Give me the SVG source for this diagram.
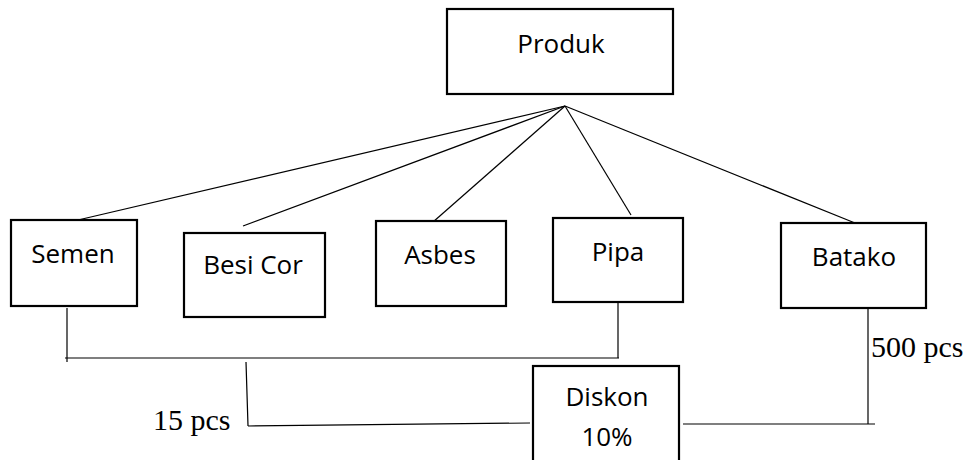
<svg xmlns="http://www.w3.org/2000/svg" width="975" height="460" viewBox="0 0 975 460">
<style>
.box{fill:#fff;stroke:#000;stroke-width:2.2}
.lbl{font-family:"Open Sans","Noto Sans",sans-serif;font-size:26px;fill:#000;text-anchor:middle}
.num{font-family:"Liberation Serif","Times New Roman",serif;font-size:30px;fill:#000}
.ln{stroke:#000;stroke-width:1.2;fill:none}
</style>
<rect width="975" height="460" fill="#fff"/>
<g id="connectors">
<line class="ln" x1="565" y1="106" x2="78" y2="220"/>
<line class="ln" x1="565" y1="106" x2="243" y2="226"/>
<line class="ln" x1="565" y1="106" x2="433" y2="222"/>
<line class="ln" x1="565" y1="106" x2="631" y2="215"/>
<line class="ln" x1="565" y1="106" x2="855" y2="223"/>
<line class="ln" x1="67" y1="308" x2="67" y2="362"/>
<line class="ln" x1="65" y1="358" x2="619" y2="358"/>
<line class="ln" x1="618" y1="302" x2="618" y2="358"/>
<line class="ln" x1="246" y1="362" x2="248" y2="426"/>
<line class="ln" x1="248" y1="426" x2="530" y2="423"/>
<line class="ln" x1="683" y1="424" x2="875" y2="424"/>
<line class="ln" x1="868" y1="308" x2="868" y2="424"/>
</g>
<g id="produk"><rect class="box" x="447" y="9" width="226" height="85"/><text class="lbl" x="561" y="53">Produk</text></g>
<g id="semen"><rect class="box" x="11" y="220" width="126" height="86"/><text class="lbl" x="73" y="263">Semen</text></g>
<g id="besicor"><rect class="box" x="184" y="233" width="141" height="84"/><text class="lbl" x="253" y="274">Besi Cor</text></g>
<g id="asbes"><rect class="box" x="376" y="221" width="130" height="85"/><text class="lbl" x="440" y="264">Asbes</text></g>
<g id="pipa"><rect class="box" x="553" y="218" width="130" height="84"/><text class="lbl" x="618" y="261">Pipa</text></g>
<g id="batako"><rect class="box" x="781" y="223" width="145" height="85"/><text class="lbl" x="854" y="266">Batako</text></g>
<g id="diskon"><rect class="box" x="533" y="366" width="146" height="110"/><text class="lbl" x="607" y="406">Diskon</text><text class="lbl" x="607" y="446">10%</text></g>
<g id="labels">
<text class="num" x="153" y="430">15 pcs</text>
<text class="num" x="871" y="357">500 pcs</text>
</g>
</svg>
